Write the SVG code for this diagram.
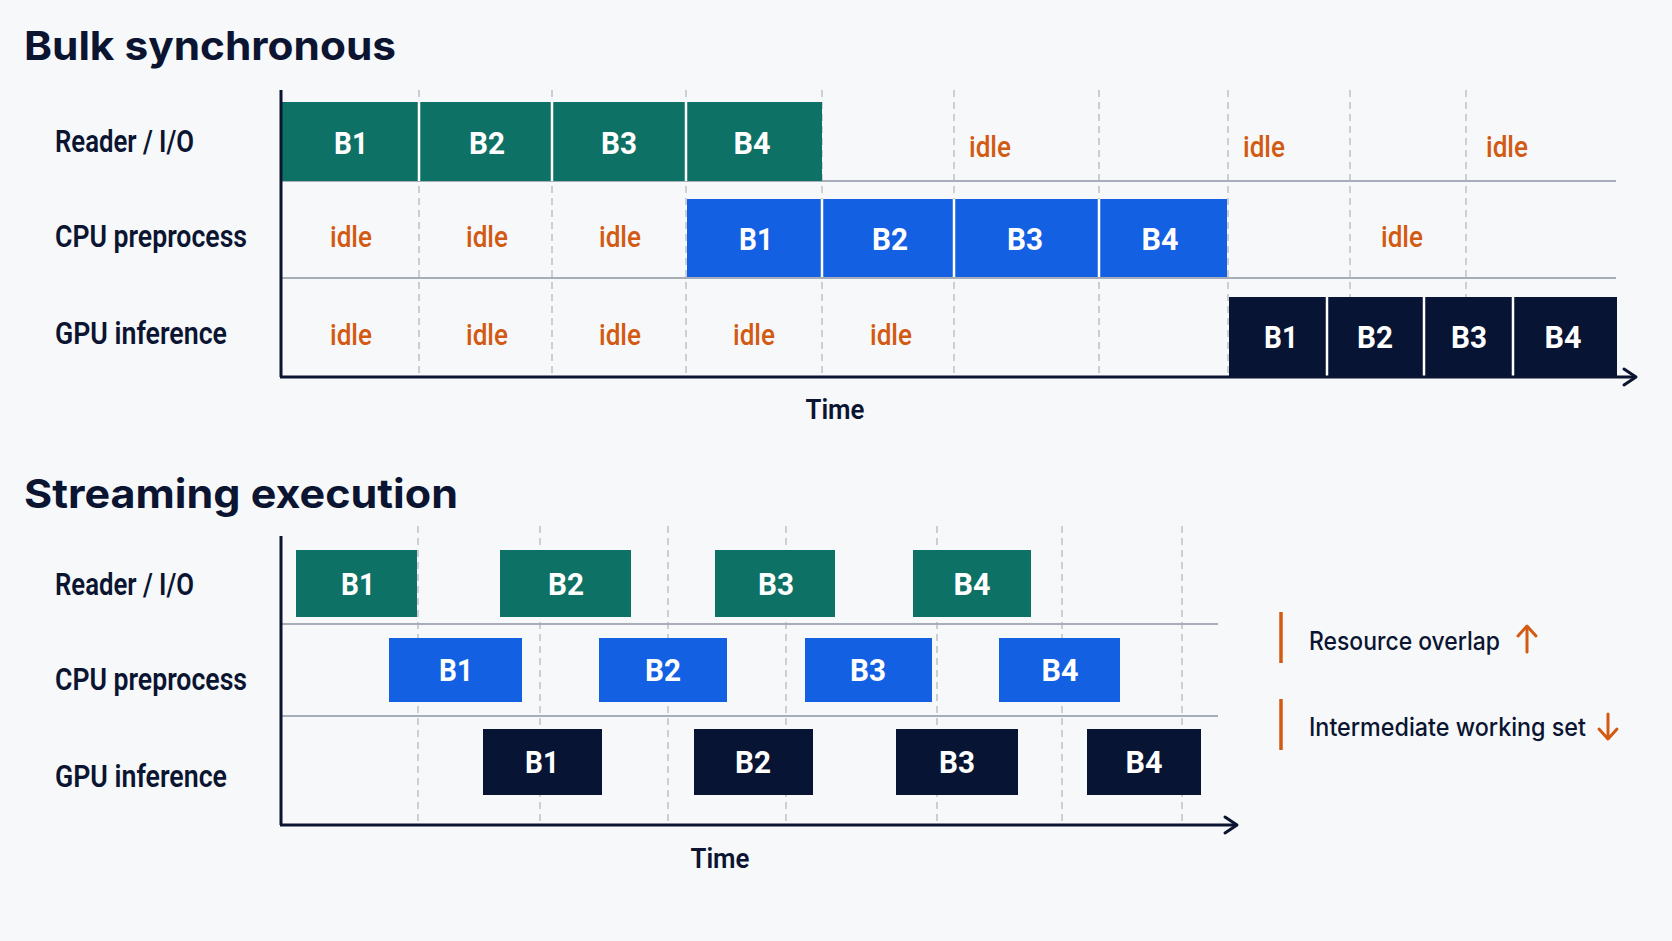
<svg xmlns="http://www.w3.org/2000/svg" width="1672" height="941" viewBox="0 0 1672 941">
<defs>
<style>
.bg{fill:#f6f8fa}
.title{font-family:Inter,"Liberation Sans",sans-serif;font-weight:700;font-size:40px;fill:#0b1430}
.row{font-family:Roboto,"Liberation Sans",sans-serif;font-weight:600;font-size:32px;fill:#0b1430}
.idle{font-family:Roboto,"Liberation Sans",sans-serif;font-weight:500;font-size:30px;fill:#d25a12;text-anchor:middle}
.bl{font-family:Roboto,"Liberation Sans",sans-serif;font-weight:700;font-size:31px;fill:#ffffff;text-anchor:middle}
.time{font-family:Roboto,"Liberation Sans",sans-serif;font-weight:600;font-size:27px;fill:#0b1430;text-anchor:middle}
.leg{font-family:Inter,"Liberation Sans",sans-serif;font-weight:500;font-size:25px;fill:#0b1430}
.teal{fill:#0e7166}
.blue{fill:#1460e3}
.navy{fill:#071433}
.div{stroke:#ffffff;stroke-width:2.5}
.dash{stroke:#b4b8c0;stroke-width:1.3;stroke-dasharray:7 5;fill:none}
.sep{stroke:#a7adb9;stroke-width:2;fill:none}
.axis{stroke:#0b1430;stroke-width:3;fill:none}
.head{stroke:#0b1430;stroke-width:3;fill:none;stroke-linecap:round;stroke-linejoin:round}
.obar{stroke:#d25a12;stroke-width:3.5}
.oarr{stroke:#d25a12;stroke-width:3;fill:none;stroke-linecap:round;stroke-linejoin:round}
</style>
</defs>
<rect class="bg" x="0" y="0" width="1672" height="941"/>

<!-- ===== Bulk synchronous ===== -->
<text class="title" x="24" y="60" textLength="372" lengthAdjust="spacingAndGlyphs">Bulk synchronous</text>

<g id="bulk-grid">
<line class="dash" x1="419" y1="90" x2="419" y2="377"/>
<line class="dash" x1="552" y1="90" x2="552" y2="377"/>
<line class="dash" x1="686" y1="90" x2="686" y2="377"/>
<line class="dash" x1="822" y1="90" x2="822" y2="377"/>
<line class="dash" x1="954" y1="90" x2="954" y2="377"/>
<line class="dash" x1="1099" y1="90" x2="1099" y2="377"/>
<line class="dash" x1="1228" y1="90" x2="1228" y2="377"/>
<line class="dash" x1="1350" y1="90" x2="1350" y2="377"/>
<line class="dash" x1="1466" y1="90" x2="1466" y2="377"/>
<line class="sep" x1="281" y1="181" x2="1616" y2="181"/>
<line class="sep" x1="281" y1="278" x2="1616" y2="278"/>
</g>

<g id="bulk-labels">
<text class="row" x="55" y="152" textLength="139" lengthAdjust="spacingAndGlyphs">Reader / I/O</text>
<text class="row" x="55" y="247" textLength="192" lengthAdjust="spacingAndGlyphs">CPU preprocess</text>
<text class="row" x="55" y="344" textLength="172" lengthAdjust="spacingAndGlyphs">GPU inference</text>
</g>

<g id="bulk-reader">
<rect class="teal" x="282" y="102" width="540" height="79"/>
<line class="div" x1="419" y1="102" x2="419" y2="181"/>
<line class="div" x1="552" y1="102" x2="552" y2="181"/>
<line class="div" x1="686" y1="102" x2="686" y2="181"/>
<text class="bl" x="351" y="154" textLength="34" lengthAdjust="spacingAndGlyphs">B1</text>
<text class="bl" x="487" y="154" textLength="36" lengthAdjust="spacingAndGlyphs">B2</text>
<text class="bl" x="619" y="154" textLength="36" lengthAdjust="spacingAndGlyphs">B3</text>
<text class="bl" x="752" y="154" textLength="37" lengthAdjust="spacingAndGlyphs">B4</text>
<text class="idle" x="990" y="157" textLength="42" lengthAdjust="spacingAndGlyphs">idle</text>
<text class="idle" x="1264" y="157" textLength="42" lengthAdjust="spacingAndGlyphs">idle</text>
<text class="idle" x="1507" y="157" textLength="42" lengthAdjust="spacingAndGlyphs">idle</text>
</g>

<g id="bulk-cpu">
<rect class="blue" x="687" y="199" width="540" height="78"/>
<line class="div" x1="822" y1="199" x2="822" y2="277"/>
<line class="div" x1="954" y1="199" x2="954" y2="277"/>
<line class="div" x1="1099" y1="199" x2="1099" y2="277"/>
<text class="idle" x="351" y="247" textLength="42" lengthAdjust="spacingAndGlyphs">idle</text>
<text class="idle" x="487" y="247" textLength="42" lengthAdjust="spacingAndGlyphs">idle</text>
<text class="idle" x="620" y="247" textLength="42" lengthAdjust="spacingAndGlyphs">idle</text>
<text class="bl" x="756" y="250" textLength="34" lengthAdjust="spacingAndGlyphs">B1</text>
<text class="bl" x="890" y="250" textLength="36" lengthAdjust="spacingAndGlyphs">B2</text>
<text class="bl" x="1025" y="250" textLength="36" lengthAdjust="spacingAndGlyphs">B3</text>
<text class="bl" x="1160" y="250" textLength="37" lengthAdjust="spacingAndGlyphs">B4</text>
<text class="idle" x="1402" y="247" textLength="42" lengthAdjust="spacingAndGlyphs">idle</text>
</g>

<g id="bulk-gpu">
<rect class="navy" x="1229" y="297" width="388" height="80"/>
<line class="div" x1="1327" y1="297" x2="1327" y2="377"/>
<line class="div" x1="1424" y1="297" x2="1424" y2="377"/>
<line class="div" x1="1513" y1="297" x2="1513" y2="377"/>
<text class="idle" x="351" y="345" textLength="42" lengthAdjust="spacingAndGlyphs">idle</text>
<text class="idle" x="487" y="345" textLength="42" lengthAdjust="spacingAndGlyphs">idle</text>
<text class="idle" x="620" y="345" textLength="42" lengthAdjust="spacingAndGlyphs">idle</text>
<text class="idle" x="754" y="345" textLength="42" lengthAdjust="spacingAndGlyphs">idle</text>
<text class="idle" x="891" y="345" textLength="42" lengthAdjust="spacingAndGlyphs">idle</text>
<text class="bl" x="1281" y="348" textLength="34" lengthAdjust="spacingAndGlyphs">B1</text>
<text class="bl" x="1375" y="348" textLength="36" lengthAdjust="spacingAndGlyphs">B2</text>
<text class="bl" x="1469" y="348" textLength="36" lengthAdjust="spacingAndGlyphs">B3</text>
<text class="bl" x="1563" y="348" textLength="37" lengthAdjust="spacingAndGlyphs">B4</text>
</g>

<g id="bulk-axes">
<line class="axis" x1="281" y1="90" x2="281" y2="377"/>
<line class="axis" x1="280" y1="377" x2="1635" y2="377"/>
<polyline class="head" points="1624,369 1636,377 1624,385"/>
<text class="time" x="835" y="419" textLength="59" lengthAdjust="spacingAndGlyphs">Time</text>
</g>

<!-- ===== Streaming execution ===== -->
<text class="title" x="24" y="508" textLength="434" lengthAdjust="spacingAndGlyphs">Streaming execution</text>

<g id="stream-grid">
<line class="dash" x1="418" y1="526" x2="418" y2="825"/>
<line class="dash" x1="540" y1="526" x2="540" y2="825"/>
<line class="dash" x1="668" y1="526" x2="668" y2="825"/>
<line class="dash" x1="786" y1="526" x2="786" y2="825"/>
<line class="dash" x1="937" y1="526" x2="937" y2="825"/>
<line class="dash" x1="1062" y1="526" x2="1062" y2="825"/>
<line class="dash" x1="1182" y1="526" x2="1182" y2="825"/>
<line class="sep" x1="281" y1="624" x2="1218" y2="624"/>
<line class="sep" x1="281" y1="716" x2="1218" y2="716"/>
</g>

<g id="stream-labels">
<text class="row" x="55" y="595" textLength="139" lengthAdjust="spacingAndGlyphs">Reader / I/O</text>
<text class="row" x="55" y="690" textLength="192" lengthAdjust="spacingAndGlyphs">CPU preprocess</text>
<text class="row" x="55" y="787" textLength="172" lengthAdjust="spacingAndGlyphs">GPU inference</text>
</g>

<g id="stream-reader">
<g id="sr-b1"><rect class="teal" x="296" y="550" width="121" height="67"/><text class="bl" x="358" y="595" textLength="34" lengthAdjust="spacingAndGlyphs">B1</text></g>
<g id="sr-b2"><rect class="teal" x="500" y="550" width="131" height="67"/><text class="bl" x="566" y="595" textLength="36" lengthAdjust="spacingAndGlyphs">B2</text></g>
<g id="sr-b3"><rect class="teal" x="715" y="550" width="120" height="67"/><text class="bl" x="776" y="595" textLength="36" lengthAdjust="spacingAndGlyphs">B3</text></g>
<g id="sr-b4"><rect class="teal" x="913" y="550" width="118" height="67"/><text class="bl" x="972" y="595" textLength="37" lengthAdjust="spacingAndGlyphs">B4</text></g>
</g>

<g id="stream-cpu">
<g id="sc-b1"><rect class="blue" x="389" y="638" width="133" height="64"/><text class="bl" x="456" y="681" textLength="34" lengthAdjust="spacingAndGlyphs">B1</text></g>
<g id="sc-b2"><rect class="blue" x="599" y="638" width="128" height="64"/><text class="bl" x="663" y="681" textLength="36" lengthAdjust="spacingAndGlyphs">B2</text></g>
<g id="sc-b3"><rect class="blue" x="805" y="638" width="127" height="64"/><text class="bl" x="868" y="681" textLength="36" lengthAdjust="spacingAndGlyphs">B3</text></g>
<g id="sc-b4"><rect class="blue" x="999" y="638" width="121" height="64"/><text class="bl" x="1060" y="681" textLength="37" lengthAdjust="spacingAndGlyphs">B4</text></g>
</g>

<g id="stream-gpu">
<g id="sg-b1"><rect class="navy" x="483" y="729" width="119" height="66"/><text class="bl" x="542" y="773" textLength="34" lengthAdjust="spacingAndGlyphs">B1</text></g>
<g id="sg-b2"><rect class="navy" x="694" y="729" width="119" height="66"/><text class="bl" x="753" y="773" textLength="36" lengthAdjust="spacingAndGlyphs">B2</text></g>
<g id="sg-b3"><rect class="navy" x="896" y="729" width="122" height="66"/><text class="bl" x="957" y="773" textLength="36" lengthAdjust="spacingAndGlyphs">B3</text></g>
<g id="sg-b4"><rect class="navy" x="1087" y="729" width="114" height="66"/><text class="bl" x="1144" y="773" textLength="37" lengthAdjust="spacingAndGlyphs">B4</text></g>
</g>

<g id="stream-axes">
<line class="axis" x1="281" y1="536" x2="281" y2="825"/>
<line class="axis" x1="280" y1="825" x2="1236" y2="825"/>
<polyline class="head" points="1225,817 1237,825 1225,833"/>
<text class="time" x="720" y="868" textLength="59" lengthAdjust="spacingAndGlyphs">Time</text>
</g>

<g id="legend-overlap">
<line class="obar" x1="1281" y1="612" x2="1281" y2="663"/>
<text class="leg" x="1309" y="650" textLength="191" lengthAdjust="spacingAndGlyphs">Resource overlap</text>
<line class="oarr" x1="1527" y1="652" x2="1527" y2="627"/>
<polyline class="oarr" points="1518,636 1527,626 1536,636"/>
</g>

<g id="legend-working-set">
<line class="obar" x1="1281" y1="699" x2="1281" y2="750"/>
<text class="leg" x="1309" y="736" textLength="277" lengthAdjust="spacingAndGlyphs">Intermediate working set</text>
<line class="oarr" x1="1608" y1="714" x2="1608" y2="738"/>
<polyline class="oarr" points="1599,729 1608,739 1617,729"/>
</g>
</svg>
